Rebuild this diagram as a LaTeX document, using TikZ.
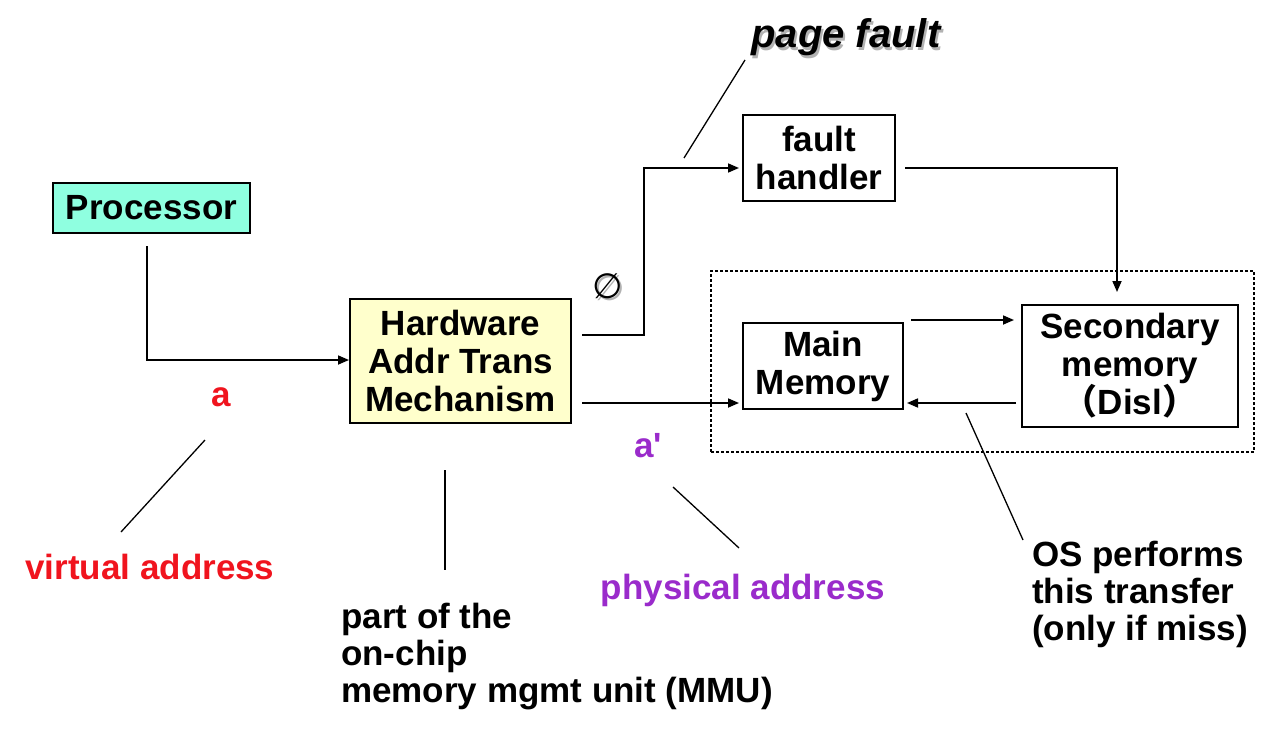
\documentclass[tikz,border=0pt]{standalone}
\usepackage{fontspec}
\setmainfont{Liberation Sans}
\newfontfamily\cjk{Noto Sans CJK SC}
\newfontfamily\dejavu{DejaVu Sans}
\usetikzlibrary{arrows.meta,calc}
\definecolor{procfill}{HTML}{8FFFE0}
\definecolor{hwfill}{HTML}{FFFFCC}
\definecolor{vred}{HTML}{F0141E}
\definecolor{ppurple}{HTML}{9A2BCB}
\begin{document}
\begin{tikzpicture}[x=1pt,y=-1pt,
  box/.style={draw,line width=2pt,inner sep=0pt,align=center,font=\bfseries\fontsize{35}{38}\selectfont},
  lbl/.style={inner sep=0pt,font=\bfseries\fontsize{35}{37}\selectfont},
  arr/.style={line width=1.7pt,-{Triangle[length=11pt,width=9pt]}},
  ptr/.style={line width=1.3pt},
  grpbox/.style={draw,line width=1.3pt,dash pattern=on 3pt off 2pt,inner sep=0pt}]
\useasboundingbox (0,0) rectangle (1274,736);

% boxes
\node[box,fill=procfill,minimum width=197pt,minimum height=50pt] (proc) at (151.5,208) {Processor};
\node[box,fill=hwfill,minimum width=221pt,minimum height=124pt] (hw) at (460.5,361) {Hardware\\Addr Trans\\Mechanism};
\node[box,minimum width=152pt,minimum height=86pt] (fh) at (819,158) {fault\\handler};
\node[grpbox,minimum width=543pt,minimum height=181pt] (grp) at (982.5,361.5) {};
\node[box,minimum width=160pt,minimum height=86pt] (mm) at (823,366) {Main\\Memory};
\node[box,minimum width=216pt,minimum height=122pt] (sec) at (1130,366) {Secondary\\memory\\{\cjk （}Disl{\cjk ）}};

% connectors
\draw[arr] ($(proc.south)+(-4.5,12)$) |- ($(hw.west)+(0,-1)$);
\draw[arr] ($(hw.east)+(10,-26)$) -- ++(62,0) |- ($(fh.west)+(-3,10)$);
\draw[arr] ($(hw.east)+(10,42)$) -- ($(mm.west)+(-3,37)$);
\draw[arr] ($(fh.east)+(9,10)$) -| ($(sec.north)+(-13,-12)$);
\draw[arr] ($(mm.east)+(7,-46)$) -- ($(sec.west)+(-7,-46)$);
\draw[arr] ($(sec.west)+(-5,37)$) -- ($(mm.east)+(3,37)$);

% labels
\node[lbl,text=vred] (la) at (221,397) {a};
\node[lbl,text=vred] (lva) at (150,567) {virtual address};
\node[lbl,text=ppurple] (lap) at (648,446) {a\textquotesingle};
\node[lbl,text=ppurple] (lpa) at (743,590) {physical address};
\node[lbl,align=left,anchor=north west] (lmmu) at (341,603) {part of the\\on-chip\\memory mgmt unit (MMU)};
\node[lbl,align=left,anchor=north west] (los) at (1032,541) {OS performs\\this transfer\\(only if miss)};
\node[lbl,text=black!30,font=\bfseries\itshape\fontsize{40}{42}\selectfont] at (848,40) {page fault};
\node[lbl,font=\bfseries\itshape\fontsize{40}{42}\selectfont] (lpf) at (846,37) {page fault};
\node[inner sep=0pt,text=black!30,font=\dejavu\fontsize{35}{36}\selectfont] at (610,288) {∅};
\node[inner sep=0pt,font=\dejavu\fontsize{35}{36}\selectfont] (lnull) at (608,286) {∅};

% pointer lines
\coordinate (pa1) at (205,440);   \coordinate (pa2) at (121,532);
\coordinate (pm1) at (445,470);   \coordinate (pm2) at (445,570);
\coordinate (pp1) at (673,487);   \coordinate (pp2) at (739,548);
\coordinate (pf1) at (745,60);    \coordinate (pf2) at (684,158);
\coordinate (po1) at (966,413);   \coordinate (po2) at (1023,540);
\draw[ptr] (pa1) -- (pa2);
\draw[ptr] (pm1) -- (pm2);
\draw[ptr] (pp1) -- (pp2);
\draw[ptr] (pf1) -- (pf2);
\draw[ptr] (po1) -- (po2);
\end{tikzpicture}
\end{document}
